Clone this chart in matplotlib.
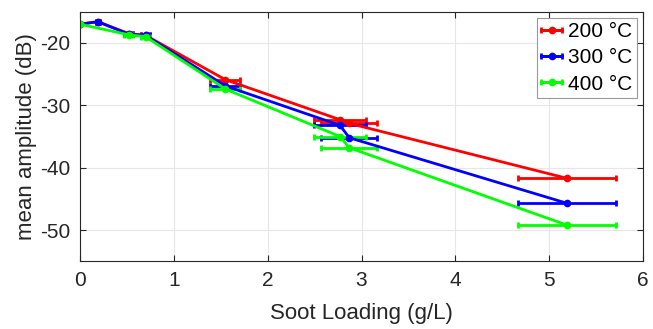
import matplotlib.pyplot as plt

plt.rcParams['font.family'] = ['Liberation Sans', 'DejaVu Sans']
plt.rcParams['axes.unicode_minus'] = False

loading = [0, 0.19, 0.52, 0.70, 1.55, 2.77, 2.87, 5.19]
loading_err = [0, 0.02, 0.05, 0.05, 0.16, 0.28, 0.30, 0.52]
loading_400 = [0, 0.52, 0.70, 1.55, 2.77, 2.87, 5.19]
loading_err_400 = [0, 0.05, 0.05, 0.16, 0.28, 0.30, 0.52]

amp_200 = [-17.0, -16.6, -18.5, -18.8, -25.9, -32.3, -32.9, -41.7]
amp_300 = [-17.0, -16.6, -18.6, -18.8, -26.9, -33.2, -35.2, -45.7]
amp_400 = [-17.0, -18.7, -19.0, -27.4, -35.0, -36.8, -49.2]

series = [('200 °C', loading, loading_err, amp_200, (1, 0, 0)),
          ('300 °C', loading, loading_err, amp_300, (0, 0, 1)),
          ('400 °C', loading_400, loading_err_400, amp_400, (0, 1, 0))]

fig = plt.figure(figsize=(6.53, 3.29), dpi=100)
ax = fig.add_axes([0.1225, 0.2058, 0.8622, 0.7586])

for label, x, xe, amp, color in series:
    ax.errorbar(x, amp, xerr=xe, color=color, lw=2,
                marker='o', ms=4.5, capsize=2.5, capthick=2,
                elinewidth=2, label=label)

ax.set_xlim(0, 6)
ax.set_ylim(-55, -15)
ax.set_xticks(range(0, 7))
ax.set_yticks([-50, -40, -30, -20])
ax.grid(True, color=(0.9, 0.9, 0.9), lw=0.8)
ax.set_axisbelow(True)
ax.tick_params(direction='in', top=True, right=True, labelsize=15,
               colors=(0.15, 0.15, 0.15), length=4, width=0.8, pad=7)
for s in ax.spines.values():
    s.set_color((0.15, 0.15, 0.15))
    s.set_linewidth(0.8)

ax.set_xlabel('Soot Loading (g/L)', fontsize=16, color=(0.15, 0.15, 0.15), labelpad=9)
ax.set_ylabel('mean amplitude (dB)', fontsize=16, color=(0.15, 0.15, 0.15), labelpad=2)

leg = ax.legend(loc='upper right', fontsize=15, fancybox=False, framealpha=1,
                edgecolor=(0.6, 0.6, 0.6), handlelength=1.0, handletextpad=0.3,
                borderpad=0.2, labelspacing=0.35, borderaxespad=0.3)
leg.get_frame().set_linewidth(0.8)

fig.savefig('out.png', dpi=100)
